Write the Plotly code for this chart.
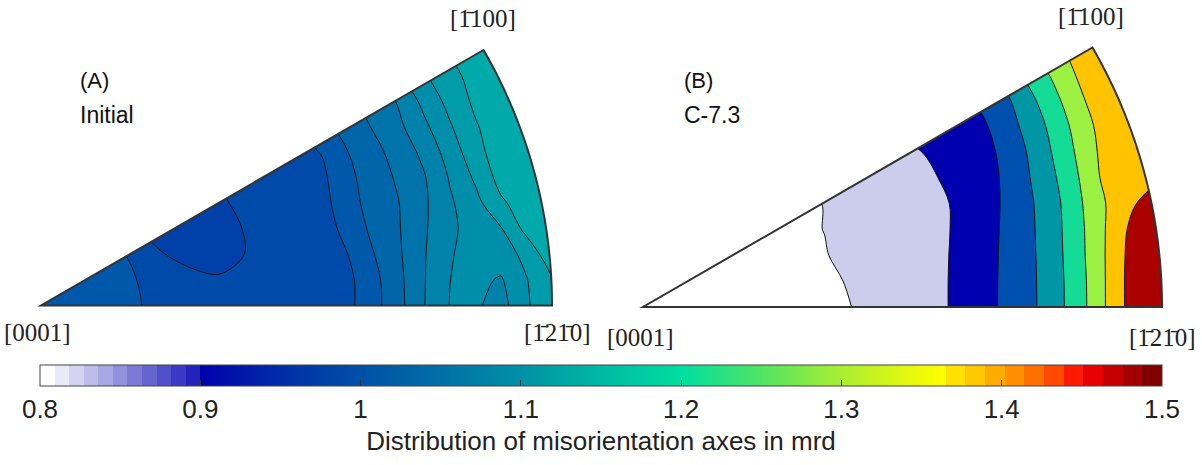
import numpy as np
import plotly.graph_objects as go

# Sampling grid across each sector, in fractions of the sector radius
u_grid = [0.0, 0.05, 0.1, 0.15, 0.2, 0.25, 0.3, 0.35, 0.4, 0.45, 0.5,
          0.55, 0.6, 0.65, 0.7, 0.75, 0.8, 0.85, 0.9, 0.95, 1.0]
v_grid = [0.0, 0.05, 0.1, 0.15, 0.2, 0.25, 0.3, 0.35, 0.4, 0.45, 0.5]

# Misorientation-axis density (mrd), one row per v_grid value
initial_mrd = [
    [0.9800, 0.9763, 0.9725, 0.9688, 0.9648, 0.9588, 0.9525, 0.9488, 0.9500, 0.9520, 0.9545, 0.9570, 0.9588, 0.9810, 1.0075, 1.0393, 1.0655, 1.0688, 1.0550, 1.0875, 1.1050],
    [0.9838, 0.9800, 0.9750, 0.9700, 0.9633, 0.9538, 0.9463, 0.9430, 0.9455, 0.9495, 0.9530, 0.9560, 0.9588, 0.9823, 1.0088, 1.0388, 1.0648, 1.0713, 1.0625, 1.0888, 1.1125],
    [0.9838, 0.9788, 0.9738, 0.9688, 0.9550, 0.9383, 0.9313, 0.9300, 0.9405, 0.9475, 0.9525, 0.9575, 0.9648, 0.9888, 1.0115, 1.0383, 1.0633, 1.0733, 1.0788, 1.0963, 1.1325],
    [0.9800, 0.9700, 0.9575, 0.9450, 0.9350, 0.9288, 0.9275, 0.9313, 0.9413, 0.9463, 0.9500, 0.9538, 0.9725, 0.9958, 1.0133, 1.0370, 1.0600, 1.0753, 1.0883, 1.1225, 1.1325],
    [0.9775, 0.9700, 0.9600, 0.9500, 0.9408, 0.9325, 0.9300, 0.9363, 0.9463, 0.9513, 0.9550, 0.9563, 0.9805, 0.9993, 1.0145, 1.0360, 1.0613, 1.0818, 1.1108, 1.1275, 1.1350],
    [0.9700, 0.9643, 0.9575, 0.9500, 0.9450, 0.9388, 0.9405, 0.9430, 0.9475, 0.9513, 0.9550, 0.9600, 0.9838, 1.0020, 1.0188, 1.0380, 1.0670, 1.0938, 1.1238, 1.1300, 1.1350],
    [0.9675, 0.9643, 0.9600, 0.9550, 0.9513, 0.9488, 0.9475, 0.9488, 0.9513, 0.9550, 0.9588, 0.9660, 0.9895, 1.0073, 1.0253, 1.0463, 1.0763, 1.1050, 1.1300, 1.1338, 1.1363],
    [0.9700, 0.9675, 0.9643, 0.9625, 0.9613, 0.9600, 0.9600, 0.9600, 0.9600, 0.9613, 0.9645, 0.9825, 1.0000, 1.0168, 1.0348, 1.0595, 1.0873, 1.1125, 1.1300, 1.1350, 1.1375],
    [0.9775, 0.9763, 0.9750, 0.9738, 0.9725, 0.9725, 0.9738, 0.9763, 0.9800, 0.9850, 0.9913, 1.0000, 1.0100, 1.0250, 1.0425, 1.0725, 1.0978, 1.1200, 1.1325, 1.1375, 1.1400],
    [0.9850, 0.9850, 0.9850, 0.9850, 0.9850, 0.9850, 0.9875, 0.9913, 0.9950, 1.0025, 1.0100, 1.0200, 1.0300, 1.0450, 1.0625, 1.0875, 1.1075, 1.1238, 1.1350, 1.1400, 1.1425],
    [0.9913, 0.9913, 0.9913, 0.9913, 0.9925, 0.9950, 0.9975, 1.0025, 1.0075, 1.0163, 1.0250, 1.0375, 1.0500, 1.0663, 1.0825, 1.1025, 1.1175, 1.1300, 1.1375, 1.1425, 1.1450],
]

c73_mrd = [
    [0.7920, 0.7984, 0.8040, 0.8096, 0.8160, 0.8216, 0.8280, 0.8336, 0.8392, 0.8608, 0.8800, 0.9000, 0.9264, 0.9712, 1.0144, 1.0672, 1.1384, 1.2288, 1.3400, 1.4480, 1.4800],
    [0.7880, 0.7936, 0.7992, 0.8048, 0.8096, 0.8152, 0.8208, 0.8264, 0.8456, 0.8656, 0.8856, 0.9000, 0.9264, 0.9704, 1.0144, 1.0680, 1.1400, 1.2304, 1.3400, 1.4480, 1.4800],
    [0.7920, 0.7984, 0.8048, 0.8120, 0.8184, 0.8248, 0.8312, 0.8373, 0.8544, 0.8720, 0.8896, 0.9024, 0.9248, 0.9696, 1.0136, 1.0696, 1.1432, 1.2360, 1.3400, 1.4440, 1.4760],
    [0.8000, 0.8040, 0.8096, 0.8160, 0.8208, 0.8264, 0.8320, 0.8408, 0.8568, 0.8736, 0.8904, 0.9040, 0.9232, 0.9680, 1.0120, 1.0720, 1.1464, 1.2384, 1.3384, 1.4320, 1.4680],
    [0.8040, 0.8064, 0.8104, 0.8152, 0.8192, 0.8240, 0.8280, 0.8416, 0.8560, 0.8728, 0.8896, 0.9040, 0.9240, 0.9672, 1.0104, 1.0752, 1.1504, 1.2456, 1.3352, 1.3984, 1.4640],
    [0.8160, 0.8176, 0.8200, 0.8240, 0.8280, 0.8336, 0.8416, 0.8496, 0.8624, 0.8760, 0.8912, 0.9080, 0.9416, 0.9680, 1.0120, 1.0864, 1.1656, 1.2592, 1.3600, 1.3880, 1.3960],
    [0.8320, 0.8336, 0.8360, 0.8416, 0.8464, 0.8544, 0.8640, 0.8736, 0.8840, 0.8944, 0.9040, 0.9264, 0.9552, 0.9776, 1.0160, 1.0992, 1.1824, 1.2752, 1.3640, 1.3880, 1.3960],
    [0.8560, 0.8576, 0.8600, 0.8640, 0.8696, 0.8760, 0.8840, 0.8944, 0.9056, 0.9184, 0.9360, 0.9560, 0.9760, 0.9824, 1.0456, 1.1168, 1.2016, 1.2928, 1.3680, 1.3880, 1.3960],
    [0.8880, 0.8896, 0.8920, 0.8960, 0.9008, 0.9072, 0.9136, 0.9216, 0.9320, 0.9440, 0.9560, 0.9696, 0.9840, 1.0160, 1.0672, 1.1488, 1.2328, 1.3184, 1.3760, 1.3920, 1.3960],
    [0.9184, 0.9216, 0.9240, 0.9280, 0.9328, 0.9392, 0.9464, 0.9560, 0.9680, 0.9824, 0.9984, 1.0160, 1.0360, 1.0640, 1.1200, 1.1920, 1.2696, 1.3480, 1.3800, 1.3960, 1.3976],
    [0.9520, 0.9536, 0.9560, 0.9600, 0.9648, 0.9712, 0.9792, 0.9888, 1.0016, 1.0160, 1.0360, 1.0600, 1.0880, 1.1280, 1.1840, 1.2560, 1.3080, 1.3600, 1.3840, 1.3984, 1.3992],
]

# Contour levels of each map (mrd)
initial_levels = dict(start=0.94, end=1.1175, size=0.025)
c73_levels = dict(start=0.84, end=1.408, size=0.08)

panel_tags = ["(A)", "(B)"]
panel_names = ["Initial", "C-7.3"]
corner_labels = ["[0001]", "[1\u030421\u03040]", "[1\u0304100]"]

cbar_ticks = [0.8, 0.9, 1.0, 1.1, 1.2, 1.3, 1.4, 1.5]
cbar_ticktext = ["0.8", "0.9", "1", "1.1", "1.2", "1.3", "1.4", "1.5"]
cbar_title = "Distribution of misorientation axes in mrd"

# ---- colours ----
initial_fill = ["#0040A8", "#004AAA", "#0058AA", "#0066AA", "#0074AA",
                "#0082AA", "#008FAA", "#009CAA", "#00AAAA"]
c73_fill = ["#FFFFFF", "#CCCCEC", "#0000B0", "#0050B0", "#0096A5",
            "#14DC96", "#9BF041", "#FFC300", "#AA0000"]


def band_scale(colors):
    """Step colour scale so that each filled band takes one flat colour."""
    n = len(colors) - 1
    scale = []
    for j, c in enumerate(colors):
        lo = max(0.0, (j - 0.5) / n)
        hi = min(1.0, (j + 0.5) / n)
        scale.append([lo, c])
        scale.append([hi, c])
    return scale


def bar_scale():
    """Colour map of the shared colour bar over 0.8-1.5 mrd."""
    zmin, zmax = 0.8, 1.5

    def t(z):
        return (z - zmin) / (zmax - zmin)

    stops = []
    # stepped white -> blue part
    nstep = 11
    for i in range(nstep):
        f = i / (nstep - 1)
        r = int(round(255 - f * (255 - 35)))
        b = int(round(255 - f * (255 - 188)))
        a, bnd = 0.8 + i * 0.1 / nstep, 0.8 + (i + 1) * 0.1 / nstep
        stops += [[t(a), f"rgb({r},{r},{b})"], [t(bnd), f"rgb({r},{r},{b})"]]
    smooth = [(0.9, (0, 0, 172)), (0.95, (0, 45, 168)), (1.0, (0, 80, 166)),
              (1.05, (0, 112, 166)), (1.1, (0, 145, 166)), (1.15, (0, 185, 164)),
              (1.2, (0, 222, 160)), (1.25, (80, 228, 100)), (1.3, (170, 238, 50)),
              (1.35, (240, 250, 10)), (1.365, (255, 255, 0))]
    for z, (r, g, b) in smooth:
        stops.append([t(z), f"rgb({r},{g},{b})"])
    hot = [(255, 225, 0), (255, 200, 0), (255, 172, 0), (255, 142, 0), (255, 110, 0),
           (255, 72, 0), (255, 25, 0), (232, 0, 0), (198, 0, 0), (162, 0, 0), (128, 0, 0)]
    step = (1.5 - 1.365) / len(hot)
    for i, (r, g, b) in enumerate(hot):
        a, bnd = 1.365 + i * step, 1.365 + (i + 1) * step
        stops += [[t(a), f"rgb({r},{g},{b})"], [min(1.0, t(bnd)), f"rgb({r},{g},{b})"]]
    return stops


SANS = "Liberation Sans, Arial, sans-serif"
SERIF = "Liberation Serif, Times New Roman, serif"

fig = go.Figure()

for z, lev, fills, xa, ya in [(initial_mrd, initial_levels, initial_fill, "x", "y"),
                              (c73_mrd, c73_levels, c73_fill, "x2", "y2")]:
    fig.add_trace(go.Contour(
        x=u_grid, y=v_grid, z=z,
        autocontour=False,
        contours=dict(start=lev["start"], end=lev["end"], size=lev["size"],
                      coloring="fill", showlines=True),
        colorscale=band_scale(fills),
        line=dict(color="#111111", width=1, smoothing=1.0),
        showscale=False, hoverinfo="skip",
        xaxis=xa, yaxis=ya,
    ))

# shared colour bar
fig.add_trace(go.Scatter(
    x=[None, None], y=[None, None], mode="markers",
    marker=dict(color=[0.8, 1.5], cmin=0.8, cmax=1.5, colorscale=bar_scale(),
                showscale=True,
                colorbar=dict(
                    orientation="h", x=0.5, xanchor="center",
                    y=1 - 365 / 465, yanchor="top",
                    len=1122 / 1202, lenmode="fraction",
                    thickness=21, thicknessmode="pixels",
                    xpad=0, ypad=0,
                    outlinewidth=1, outlinecolor="#444444",
                    tickmode="array", tickvals=cbar_ticks, ticktext=cbar_ticktext,
                    ticks="inside", ticklen=6, tickwidth=1, tickcolor="#333333",
                    tickfont=dict(family=SANS, size=26, color="#222222"),
                    title=dict(text=cbar_title, side="bottom",
                               font=dict(family=SANS, size=26, color="#222222")),
                )),
    hoverinfo="skip", showlegend=False, xaxis="x", yaxis="y",
))

# sector outline (arc of the stereographic projection) and white mask outside it
theta = np.linspace(0, np.pi / 6, 73)
arc = " ".join(f"L {np.cos(a):.5f},{np.sin(a):.5f}" for a in theta[1:])
wedge = f"M 0,0 L 1,0 {arc} Z"
mask = "M -2,-2 L 3,-2 L 3,3 L -2,3 Z " + wedge

shapes = []
for xr, yr in [("x", "y"), ("x2", "y2")]:
    shapes.append(dict(type="path", path=mask, xref=xr, yref=yr,
                       fillcolor="white", line=dict(width=0), fillrule="evenodd",
                       layer="above"))
    shapes.append(dict(type="path", path=wedge, xref=xr, yref=yr,
                       fillcolor="rgba(0,0,0,0)", line=dict(color="#333333", width=2),
                       layer="above"))

annotations = []
corner_pos = {
    "x": [(-0.006, -0.053), (1.010, -0.053), (0.865, 0.562)],
    "x2": [(-0.004, -0.059), (1.000, -0.059), (0.863, 0.559)],
}
for xr, yr in [("x", "y"), ("x2", "y2")]:
    for text, (px, py) in zip(corner_labels, corner_pos[xr]):
        annotations.append(dict(text=text, x=px, y=py, xref=xr, yref=yr,
                                showarrow=False, xanchor="center", yanchor="middle",
                                font=dict(family=SERIF, size=25, color="#222222")))

for i, (tag, name) in enumerate(zip(panel_tags, panel_names)):
    x0 = [78, 682][i] / 1202
    annotations.append(dict(text=tag, x=x0, y=1 - 80 / 465, xref="paper", yref="paper",
                            showarrow=False, xanchor="left", yanchor="middle",
                            font=dict(family=SANS, size=22, color="#111111")))
    annotations.append(dict(text=name, x=x0, y=1 - 115 / 465, xref="paper", yref="paper",
                            showarrow=False, xanchor="left", yanchor="middle",
                            font=dict(family=SANS, size=23, color="#111111")))

ydom = [1 - 355 / 465, 1]
fig.update_layout(
    width=1202, height=465,
    margin=dict(l=0, r=0, t=0, b=0, autoexpand=False),
    paper_bgcolor="white", plot_bgcolor="white",
    showlegend=False,
    xaxis=dict(domain=[0, 0.5], range=[-41 / 511, 560 / 511], visible=False),
    yaxis=dict(domain=ydom, range=[-49.5 / 511, 305.5 / 511], visible=False),
    xaxis2=dict(domain=[0.5, 1], range=[-42 / 519, 559 / 519], visible=False, anchor="y2"),
    yaxis2=dict(domain=ydom, range=[-48 / 519, 307 / 519], visible=False, anchor="x2"),
    shapes=shapes,
    annotations=annotations,
)

fig.write_html("out.html")
